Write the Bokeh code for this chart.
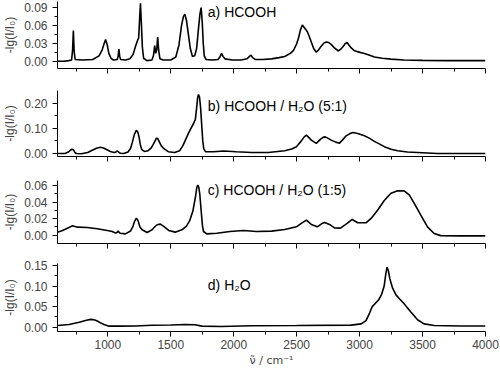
from bokeh.plotting import figure
from bokeh.models import FixedTicker, PrintfTickFormatter, Range1d, Label
from bokeh.layouts import column
from bokeh.embed import file_html
from bokeh.resources import INLINE

# ---------------- data ----------------
wn_a = [600, 650, 690, 712, 720, 726, 732, 740, 800, 880, 930, 955, 970, 982, 995, 1008, 1025, 1045,
        1075, 1082, 1088, 1094, 1102, 1140, 1175, 1200, 1220, 1235, 1245, 1252, 1259, 1266, 1274, 1284,
        1310, 1350, 1362, 1372, 1380, 1388, 1396, 1404, 1414, 1440, 1500, 1540, 1565, 1585, 1600, 1612,
        1625, 1640, 1655, 1672, 1690, 1705, 1720, 1732, 1741, 1750, 1758, 1766, 1780, 1830, 1875, 1890,
        1903, 1915, 1930, 1990, 2060, 2105, 2125, 2138, 2150, 2170, 2230, 2300, 2360, 2405, 2450, 2475,
        2500, 2515, 2530, 2545, 2560, 2585, 2600, 2616, 2635, 2656, 2675, 2695, 2715, 2735, 2755, 2774,
        2800, 2832, 2850, 2867, 2885, 2901, 2915, 2933, 2955, 2980, 3038, 3080, 3117, 3180, 3249, 3352,
        3500, 3700, 3850, 4000]
abs_a = [0.001, 0.001, 0.002, 0.003, 0.020, 0.052, 0.018, 0.004, 0.003, 0.004, 0.010, 0.020, 0.030,
         0.037, 0.028, 0.014, 0.006, 0.003, 0.004, 0.010, 0.021, 0.009, 0.004, 0.003, 0.005, 0.012,
         0.026, 0.035, 0.040, 0.070, 0.097, 0.065, 0.025, 0.006, 0.002, 0.003, 0.010, 0.027, 0.014,
         0.020, 0.041, 0.018, 0.005, 0.003, 0.003, 0.008, 0.028, 0.060, 0.075, 0.079, 0.068, 0.045,
         0.022, 0.009, 0.010, 0.022, 0.055, 0.080, 0.090, 0.065, 0.030, 0.010, 0.004, 0.003, 0.004,
         0.008, 0.014, 0.009, 0.005, 0.003, 0.003, 0.005, 0.009, 0.011, 0.007, 0.004, 0.004, 0.005,
         0.007, 0.009, 0.014, 0.019, 0.030, 0.040, 0.053, 0.061, 0.057, 0.050, 0.042, 0.033, 0.022,
         0.016, 0.020, 0.026, 0.031, 0.033, 0.032, 0.029, 0.023, 0.018, 0.021, 0.025, 0.030, 0.032,
         0.028, 0.023, 0.019, 0.017, 0.014, 0.011, 0.008, 0.006, 0.0045, 0.003, 0.0025, 0.002, 0.002,
         0.002]

wn_b = [600, 660, 690, 705, 715, 727, 738, 750, 790, 840, 880, 915, 940, 965, 990, 1020, 1050, 1065,
        1076, 1086, 1100, 1125, 1160, 1180, 1195, 1210, 1226, 1238, 1248, 1258, 1270, 1290, 1320, 1345,
        1365, 1385, 1395, 1410, 1425, 1448, 1480, 1530, 1570, 1595, 1615, 1640, 1660, 1680, 1695, 1705,
        1713, 1720, 1728, 1737, 1746, 1754, 1762, 1775, 1840, 1920, 2020, 2142, 2274, 2405, 2460, 2498,
        2537, 2560, 2577, 2596, 2616, 2656, 2690, 2710, 2727, 2750, 2774, 2810, 2840, 2865, 2893, 2920,
        2946, 2985, 3038, 3080, 3117, 3160, 3196, 3250, 3302, 3380, 3460, 3618, 3800, 4000]
abs_b = [0.000, 0.000, 0.007, 0.014, 0.017, 0.014, 0.004, 0.000, -0.001, 0.004, 0.014, 0.022, 0.025,
         0.022, 0.016, 0.008, 0.004, 0.006, 0.010, 0.005, 0.001, 0.000, 0.006, 0.020, 0.045, 0.075,
         0.092, 0.085, 0.065, 0.035, 0.015, 0.008, 0.011, 0.022, 0.040, 0.060, 0.060, 0.045, 0.030,
         0.018, 0.007, 0.004, 0.011, 0.030, 0.052, 0.080, 0.100, 0.118, 0.135, 0.180, 0.220, 0.234,
         0.225, 0.180, 0.110, 0.050, 0.018, 0.007, 0.007, 0.010, 0.007, 0.004, 0.004, 0.011, 0.018,
         0.027, 0.050, 0.066, 0.073, 0.064, 0.053, 0.040, 0.057, 0.064, 0.066, 0.060, 0.053, 0.045,
         0.041, 0.054, 0.070, 0.078, 0.083, 0.079, 0.070, 0.060, 0.048, 0.037, 0.027, 0.017, 0.011,
         0.006, 0.004, 0.000, 0.000, 0.000]

wn_c = [600, 640, 679, 719, 758, 837, 916, 995, 1035, 1061, 1075, 1082, 1092, 1100, 1140, 1180, 1200,
        1213, 1227, 1240, 1255, 1272, 1312, 1351, 1375, 1391, 1417, 1444, 1483, 1535, 1588, 1625, 1650,
        1675, 1697, 1706, 1714, 1722, 1730, 1744, 1752, 1760, 1786, 1865, 1970, 2076, 2181, 2300, 2405,
        2498, 2537, 2577, 2616, 2664, 2700, 2722, 2761, 2801, 2848, 2901, 2941, 2985, 3051, 3091, 3144,
        3196, 3249, 3302, 3354, 3394, 3433, 3486, 3539, 3592, 3644, 3800, 4000]
abs_c = [0.0035, 0.0057, 0.0085, 0.0113, 0.0097, 0.0093, 0.0077, 0.0057, 0.0045, 0.0025, 0.0035,
         0.0050, 0.0030, 0.0024, 0.0016, 0.0050, 0.0110, 0.0170, 0.0207, 0.0175, 0.0100, 0.0065,
         0.0032, 0.0065, 0.0105, 0.0126, 0.0134, 0.0106, 0.0057, 0.0037, 0.0065, 0.0110, 0.0175,
         0.0288, 0.0470, 0.0570, 0.0605, 0.0580, 0.0500, 0.0247, 0.0110, 0.0045, 0.0016, 0.0024,
         0.0045, 0.0057, 0.0045, 0.0049, 0.0069, 0.0101, 0.0142, 0.0183, 0.0130, 0.0101, 0.0140,
         0.0154, 0.0130, 0.0089, 0.0085, 0.0142, 0.0190, 0.0150, 0.0150, 0.0203, 0.0304, 0.0418,
         0.0507, 0.0535, 0.0535, 0.0487, 0.0386, 0.0243, 0.0101, 0.0020, -0.0005, -0.0008, -0.0008]

wn_d = [600, 692, 772, 830, 864, 890, 916, 945, 969, 1009, 1100, 1219, 1351, 1500, 1614, 1693, 1747,
        1900, 2142, 2500, 2933, 3012, 3051, 3080, 3100, 3122, 3150, 3175, 3195, 3208, 3218, 3228, 3240,
        3262, 3290, 3320, 3354, 3380, 3407, 3435, 3460, 3512, 3592, 3800, 4000]
abs_d = [0.004, 0.0066, 0.012, 0.017, 0.019, 0.018, 0.015, 0.010, 0.0066, 0.0025, 0.0025, 0.003,
         0.0047, 0.0055, 0.0066, 0.0058, 0.0025, 0.0018, 0.0035, 0.004, 0.005, 0.008, 0.016, 0.035,
         0.050, 0.057, 0.066, 0.080, 0.100, 0.130, 0.146, 0.138, 0.118, 0.095, 0.078, 0.068, 0.057,
         0.047, 0.037, 0.027, 0.018, 0.008, 0.004, 0.003, 0.003]

labels = ["a) HCOOH", "b) HCOOH / H\u2082O (5:1)", "c) HCOOH / H\u2082O (1:5)", "d) H\u2082O"]
label_y = [0.082, 0.189, 0.0548, 0.102]
y_lo = [-0.011, -0.012, -0.010, -0.0105]
y_hi = [0.100, 0.250, 0.066, 0.155]
y_major = [[0.0, 0.03, 0.06, 0.09], [0.0, 0.1, 0.2], [0.0, 0.02, 0.04, 0.06], [0.0, 0.05, 0.10, 0.15]]
y_minor = [[0.015, 0.045, 0.075], [0.05, 0.15], [0.01, 0.03, 0.05], [0.025, 0.075, 0.125]]
x_major = [1000, 1500, 2000, 2500, 3000, 3500, 4000]
x_minor = [750, 1250, 1750, 2250, 2750, 3250, 3750]
y_title = "-lg(I/I\u2080)"
x_title = "\u03bd\u0303 / cm\u207b\u00b9"

# ---------------- layout ----------------
FONT = "Liberation Sans"
heights = [84, 90, 83, 113]
tops = [1, 6, 6, 6]
bottoms = [16, 18, 14, 39]
series = [(wn_a, abs_a), (wn_b, abs_b), (wn_c, abs_c), (wn_d, abs_d)]

xr = Range1d(600, 4000)
figs = []
for i in range(4):
    p = figure(width=500, height=heights[i], x_range=xr, y_range=Range1d(y_lo[i], y_hi[i]),
               output_backend="svg", toolbar_location=None, title=None,
               min_border_left=55, min_border_right=15,
               min_border_top=tops[i], min_border_bottom=bottoms[i])
    p.xgrid.visible = False
    p.ygrid.visible = False
    p.outline_line_color = None
    p.background_fill_color = "white"
    p.border_fill_color = "white"

    w, a = series[i]
    p.line(w, a, line_color="black", line_width=1.6)

    p.add_layout(Label(x=1794, y=label_y[i], text=labels[i], text_font=FONT,
                       text_font_size="14px", text_color="black", text_baseline="middle"))

    ya = p.yaxis[0]
    ya.ticker = FixedTicker(ticks=y_major[i], minor_ticks=y_minor[i])
    ya.formatter = PrintfTickFormatter(format="%.2f")
    ya.axis_label = y_title
    ya.axis_label_text_font = FONT
    ya.axis_label_text_font_style = "normal"
    ya.axis_label_text_font_size = "12px"
    ya.axis_label_standoff = 4
    ya.major_label_text_font = FONT
    ya.major_label_text_font_size = "12px"
    ya.major_label_standoff = 5
    ya.major_tick_out = 5
    ya.major_tick_in = 0
    ya.minor_tick_out = 3
    ya.minor_tick_in = 0
    ya.axis_line_color = "black"
    ya.major_tick_line_color = "black"
    ya.minor_tick_line_color = "black"

    xa = p.xaxis[0]
    xa.ticker = FixedTicker(ticks=x_major, minor_ticks=x_minor)
    xa.major_tick_out = 5
    xa.major_tick_in = 0
    xa.minor_tick_out = 3
    xa.minor_tick_in = 0
    xa.axis_line_color = "black"
    xa.major_tick_line_color = "black"
    xa.minor_tick_line_color = "black"
    xa.major_label_text_font = FONT
    if i < 3:
        xa.major_label_text_color = None
        xa.major_label_standoff = 0
    else:
        xa.major_label_text_font_size = "12px"
        xa.major_label_standoff = 3
        xa.axis_label = x_title
        xa.axis_label_text_font = "DejaVu Sans"
        xa.axis_label_text_font_style = "normal"
        xa.axis_label_text_font_size = "11px"
        xa.axis_label_standoff = 2
    figs.append(p)

layout = column(*figs, spacing=0)
open("out.html", "w").write(file_html(layout, INLINE))
